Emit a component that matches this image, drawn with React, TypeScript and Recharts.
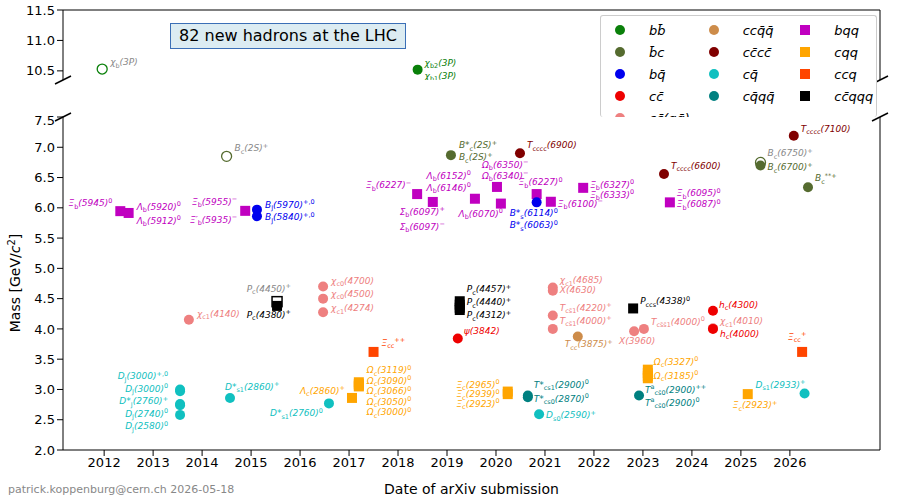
import React from "react";
import { ScatterChart, Scatter, XAxis, YAxis, Label } from "recharts";

// hadron categories: name shown in the legend, colour, marker
const categories = ["bb", "bc", "bq", "cc", "ccqq", "ccqqa", "cccc", "cq", "cqqq", "bqq", "cqq", "ccq", "ccqqq"];
const categoryNames = ["bb̄", "b̄c", "bq̄", "cc̄", "cc̄(qq̄)", "ccq̄q̄", "cc̄cc̄", "cq̄", "cq̄qq̄", "bqq", "cqq", "ccq", "cc̄qqq"];
const categoryColors = ["#0a800a", "#556b2f", "#0000ee", "#ee0000", "#ee8080", "#cd8c4a", "#800000", "#10c0c0", "#008080", "#c000c0", "#ffa500", "#ff4500", "#000000"];
const squareCats = ["bqq", "cqq", "ccq", "ccqqq"];

// [year of submission, mass GeV, category, open marker, label]
const topPoints: [number, number, string, boolean, string][] = [
  [2011.96, 10.53, "bb", true, "χ_{b}(3P)"],
  [2018.4, 10.52, "bb", false, "χ_{b2}(3P)|χ_{b1}(3P)"],
];
const topLabelPos: [number, number, string, number][] = [
  [8, -4, "start", 12],
  [7, -4, "start", 13],
];

const mainPoints: [number, number, string, boolean, string][] = [
  [2012.33, 5.945, "bqq", false, "Ξ_{b}(5945)^{0}"],
  [2012.5, 5.915, "bqq", false, "Λ_{b}(5920)^{0}|Λ_{b}(5912)^{0}"],
  [2014.5, 6.85, "bc", true, "B_{c}(2S)^{+}"],
  [2014.88, 5.95, "bqq", false, "Ξ_{b}(5955)^{−}|Ξ′_{b}(5935)^{−}"],
  [2015.12, 5.97, "bq", false, "B_{J}(5970)^{+,0}"],
  [2015.12, 5.86, "bq", false, "B_{J}(5840)^{+,0}"],
  [2013.55, 3.0, "cq", false, "D_{J}(3000)^{+,0}|D_{J}(3000)^{0}|D*_{J}(2760)^{+}|D_{J}(2740)^{0}|D_{J}(2580)^{0}"],
  [2013.55, 2.97, "cq", false, ""],
  [2013.55, 2.76, "cq", false, ""],
  [2013.55, 2.74, "cq", false, ""],
  [2013.55, 2.58, "cq", false, ""],
  [2014.57, 2.86, "cq", false, "D*_{s1}(2860)^{+}"],
  [2016.59, 2.77, "cq", false, "D*_{s1}(2760)^{0}"],
  [2013.73, 4.15, "ccqq", false, "χ_{c1}(4140)"],
  [2015.53, 4.45, "ccqqq", true, "P_{c}(4450)^{+}"],
  [2015.53, 4.38, "ccqqq", false, "P_{c}(4380)^{+}"],
  [2016.47, 4.7, "ccqq", false, "χ_{c0}(4700)"],
  [2016.47, 4.5, "ccqq", false, "χ_{c0}(4500)"],
  [2016.47, 4.274, "ccqq", false, "χ_{c1}(4274)"],
  [2017.5, 3.62, "ccq", false, "Ξ_{cc}^{++}"],
  [2017.2, 3.119, "cqq", false, "Ω_{c}(3119)^{0}|Ω_{c}(3090)^{0}|Ω_{c}(3066)^{0}|Ω_{c}(3050)^{0}|Ω_{c}(3000)^{0}"],
  [2017.2, 3.09, "cqq", false, ""],
  [2017.2, 3.066, "cqq", false, ""],
  [2017.2, 3.05, "cqq", false, ""],
  [2017.06, 2.86, "cqq", false, "Λ_{c}(2860)^{+}"],
  [2018.39, 6.227, "bqq", false, "Ξ_{b}(6227)^{−}"],
  [2018.71, 6.097, "bqq", false, "Σ_{b}(6097)^{+}|Σ_{b}(6097)^{−}"],
  [2019.08, 6.87, "bc", false, "B*_{c}(2S)^{+}|B_{c}(2S)^{+}"],
  [2019.57, 6.15, "bqq", false, "Λ_{b}(6152)^{0}|Λ_{b}(6146)^{0}"],
  [2020.1, 6.07, "bqq", false, "Λ_{b}(6070)^{0}"],
  [2020.02, 6.345, "bqq", false, "Ω_{b}(6350)^{−}|Ω_{b}(6340)^{−}"],
  [2020.49, 6.9, "cccc", false, "T_{cccc}(6900)"],
  [2020.83, 6.227, "bqq", false, "Ξ_{b}(6227)^{0}"],
  [2020.83, 6.09, "bq", false, "B*_{s}(6114)^{0}|B*_{s}(6063)^{0}"],
  [2021.12, 6.1, "bqq", false, "Ξ_{b}(6100)^{−}"],
  [2021.78, 6.33, "bqq", false, "Ξ_{b}(6327)^{0}|Ξ_{b}(6333)^{0}"],
  [2019.26, 4.457, "ccqqq", false, "P_{c}(4457)^{+}|P_{c}(4440)^{+}|P_{c}(4312)^{+}"],
  [2019.26, 4.4, "ccqqq", false, ""],
  [2019.26, 4.35, "ccqqq", false, ""],
  [2019.26, 4.312, "ccqqq", false, ""],
  [2019.22, 3.842, "cc", false, "ψ(3842)"],
  [2020.24, 2.965, "cqq", false, "Ξ_{c}(2965)^{0}|Ξ_{c}(2939)^{0}|Ξ_{c}(2923)^{0}"],
  [2020.24, 2.923, "cqq", false, ""],
  [2020.65, 2.9, "cqqq", false, "T*_{cs1}(2900)^{0}|T*_{cs0}(2870)^{0}"],
  [2020.65, 2.87, "cqqq", false, ""],
  [2020.88, 2.59, "cq", false, "D_{s0}(2590)^{+}"],
  [2021.16, 4.685, "ccqq", false, "χ_{c1}(4685)|X(4630)"],
  [2021.16, 4.63, "ccqq", false, ""],
  [2021.16, 4.22, "ccqq", false, "T_{cs̄1}(4220)^{+}|T_{cs̄1}(4000)^{+}"],
  [2021.16, 4.0, "ccqq", false, ""],
  [2021.67, 3.875, "ccqqa", false, "T_{cc}(3875)^{+}"],
  [2022.8, 4.338, "ccqqq", false, "P_{ccs}(4338)^{0}"],
  [2022.82, 3.96, "ccqq", false, "X(3960)"],
  [2023.02, 4.0, "ccqq", false, "T_{cs̄s̄1}(4000)^{0}"],
  [2023.1, 3.327, "cqq", false, "Ω_{c}(3327)^{0}|Ω_{c}(3185)^{0}"],
  [2023.1, 3.27, "cqq", false, ""],
  [2023.1, 3.22, "cqq", false, ""],
  [2023.1, 3.185, "cqq", false, ""],
  [2022.92, 2.9, "cqqq", false, "T^{a}_{cs̄0}(2900)^{++}|T^{a}_{cs̄0}(2900)^{0}"],
  [2023.43, 6.56, "cccc", false, "T_{cccc}(6600)"],
  [2023.55, 6.09, "bqq", false, "Ξ_{b}(6095)^{0}|Ξ_{b}(6087)^{0}"],
  [2024.43, 4.3, "cc", false, "h_{c}(4300)"],
  [2024.43, 4.01, "ccqq", false, "χ_{c1}(4010)"],
  [2024.43, 4.0, "cc", false, "h_{c}(4000)"],
  [2025.14, 2.923, "cqq", false, "Ξ_{c}(2923)^{+}"],
  [2025.4, 6.75, "bc", true, "B_{c}(6750)^{+}"],
  [2025.4, 6.7, "bc", false, "B_{c}(6700)^{+}"],
  [2026.08, 7.19, "cccc", false, "T_{cccc}(7100)"],
  [2026.25, 3.62, "ccq", false, "Ξ_{cc}^{+}"],
  [2026.3, 2.933, "cq", false, "D_{s1}(2933)^{+}"],
  [2026.37, 6.34, "bc", false, "B_{c}^{**+}"],
];
// label placement per point: dx, dy, anchor, line height
const S = "start", E = "end";
const mainLabelPos: [number, number, string, number][] = [
  [-8, -5, E, 12], [8, -3, S, 14], [8, -5, S, 12], [-8, -6, E, 18], [8, -2, S, 12], [8, 4, S, 12],
  [-12, -10, E, 12.5], [0, 0, S, 0], [0, 0, S, 0], [0, 0, S, 0], [0, 0, S, 0],
  [-5, -8, S, 12], [-6, 13, E, 12], [8, -3, S, 12], [14, -10, E, 12], [14, 12, E, 12],
  [8, -3, S, 12], [8, -2, S, 12], [8, -1, S, 12], [8, -6, S, 12],
  [8, -9, S, 10.5], [0, 0, S, 0], [0, 0, S, 0], [0, 0, S, 0], [-7, -4, E, 12],
  [-6, -6, E, 12], [12, 13, E, 15], [8, -7, S, 12], [-4, -20, E, 12], [2, 13, E, 12],
  [-15, -19, S, 11], [7, -5, S, 12], [-18, -9, S, 12], [-27, 14, S, 12], [7, 5, S, 12], [7, 0, S, 10],
  [7, -9, S, 13], [0, 0, S, 0], [0, 0, S, 0], [0, 0, S, 0], [6, -4, S, 12],
  [-8, -4, E, 9.5], [0, 0, S, 0], [6, -8, S, 14], [0, 0, S, 0], [7, 4, S, 12],
  [7, -4, S, 10], [0, 0, S, 0], [7, -5, S, 13], [0, 0, S, 0],
  [-13, 11, S, 12], [7, -4, S, 12], [-15, 13, S, 12], [7, -4, S, 12],
  [6, -5, S, 14], [0, 0, S, 0], [0, 0, S, 0], [0, 0, S, 0], [6, -3, S, 13],
  [7, -5, S, 12], [7, -6, S, 11], [6, -3, S, 12], [7, -4, S, 12], [7, 8, S, 12],
  [-15, 14, S, 12], [7, -6, S, 12], [7, 5, S, 12], [7, -4, S, 12], [-14, -12, S, 12],
  [-49, -6, S, 12], [7, -6, S, 12],
];

const yearTicks = [2012, 2013, 2014, 2015, 2016, 2017, 2018, 2019, 2020, 2021, 2022, 2023, 2024, 2025, 2026];
const massTicks = [2.0, 2.5, 3.0, 3.5, 4.0, 4.5, 5.0, 5.5, 6.0, 6.5, 7.0, 7.5];
const topMassTicks = [10.5, 11.0, 11.5];
const X_DOMAIN = [2011.16, 2027.84];

const FONT = "DejaVu Sans, sans-serif";

const colorOf = (c: string) => categoryColors[categories.indexOf(c)];

function RichText({ text, x, y, fill, anchor, size }: any) {
  const parts = text.split(/([_^]\{[^}]*\})/).filter((p: string) => p !== "");
  let shift = 0;
  return (
    <text x={x} y={y} fill={fill} textAnchor={anchor} fontSize={size} fontFamily={FONT}>
      {parts.map((p: string, i: number) => {
        let target = 0;
        let body = p;
        if (p.startsWith("_{")) { target = 2.5; body = p.slice(2, -1); }
        else if (p.startsWith("^{")) { target = -3.5; body = p.slice(2, -1); }
        const dy = target - shift;
        shift = target;
        return (
          <tspan key={i} dy={dy} fontSize={target ? size * 0.72 : size} fontStyle={target ? "normal" : "italic"}>{body}</tspan>
        );
      })}
    </text>
  );
}

const makeShape = (pos: [number, number, string, number][]) => (props: any) => {
  const { cx, cy, payload } = props;
  const color = colorOf(payload.c);
  const sq = squareCats.includes(payload.c);
  const fill = payload.open ? "#fff" : color;
  const lc = payload.open ? "#888" : color;
  const [dx, dy, anchor, lh] = pos[payload.i];
  const lines = payload.label ? payload.label.split("|") : [];
  return (
    <g>
      {sq ? (
        <rect x={cx - 5} y={cy - 5} width={10} height={10} fill={fill} stroke={color} strokeWidth={payload.open ? 1.5 : 0} />
      ) : (
        <circle cx={cx} cy={cy} r={5} fill={fill} stroke={color} strokeWidth={payload.open ? 1.3 : 0} />
      )}
      {lines.map((t: string, k: number) => (
        <RichText key={k} text={t} x={cx + dx} y={cy + dy + k * lh} fill={lc} anchor={anchor} size={9} />
      ))}
    </g>
  );
};

const toRows = (pts: [number, number, string, boolean, string][]) =>
  pts.map(([x, m, c, open, label], i) => ({ x, m, c, open, label, i }));

const tickStyle = { fontSize: 13, fill: "#000", fontFamily: FONT };

export default function App() {
  const legendCols = [categories.slice(0, 5), categories.slice(5, 9), categories.slice(9, 13)];
  return (
    <div style={{ position: "fixed", left: 0, top: 0, width: 900, height: 500, background: "#fff", fontFamily: FONT }}>
      <div style={{ position: "absolute", left: 0, top: 0 }}>
        <ScatterChart width={900} height={85} margin={{ top: 10, right: 20, bottom: 5, left: 23 }}>
          <XAxis type="number" dataKey="x" domain={X_DOMAIN} hide allowDataOverflow />
          <YAxis type="number" dataKey="m" domain={[10.35, 11.5]} ticks={topMassTicks} width={40}
            tickFormatter={(v) => v.toFixed(1)} tick={tickStyle} tickLine={{ stroke: "#000" }} axisLine={{ stroke: "#000" }} allowDataOverflow />
          <Scatter data={toRows(topPoints)} shape={makeShape(topLabelPos)} isAnimationActive={false} />
        </ScatterChart>
      </div>
      <div style={{ position: "absolute", left: 0, top: 112 }}>
        <ScatterChart width={900} height={388} margin={{ top: 5, right: 20, bottom: 20, left: 23 }}>
          <XAxis type="number" dataKey="x" domain={X_DOMAIN} ticks={yearTicks} height={30} tick={tickStyle}
            tickLine={{ stroke: "#000" }} axisLine={{ stroke: "#000" }} allowDataOverflow>
            <Label value="Date of arXiv submission" position="bottom" offset={4} style={{ fontSize: 14, fill: "#000", fontFamily: FONT }} />
          </XAxis>
          <YAxis type="number" dataKey="m" domain={[2, 7.5]} ticks={massTicks} width={40}
            tickFormatter={(v) => v.toFixed(1)} tick={tickStyle} tickLine={{ stroke: "#000" }} axisLine={{ stroke: "#000" }} allowDataOverflow />
          <Scatter data={toRows(mainPoints)} shape={makeShape(mainLabelPos)} isAnimationActive={false} />
        </ScatterChart>
      </div>
      {/* top / right spines, axis break marks, y title */}
      <svg width={900} height={500} style={{ position: "absolute", left: 0, top: 0, pointerEvents: "none" }}>
        <line x1={63} y1={10} x2={880} y2={10} stroke="#000" />
        <line x1={880} y1={10} x2={880} y2={80} stroke="#000" />
        <line x1={880} y1={117} x2={880} y2={450} stroke="#000" />
        {[63, 880].map((x) => (
          <g key={x}>
            <line x1={x - 8} y1={84} x2={x + 8} y2={76} stroke="#000" strokeWidth={1.5} />
            <line x1={x - 8} y1={121} x2={x + 8} y2={113} stroke="#000" strokeWidth={1.5} />
          </g>
        ))}
        <text transform="translate(20,283) rotate(-90)" textAnchor="middle" fontSize={14} fontFamily={FONT} fill="#000">
          Mass [GeV/<tspan fontStyle="italic">c</tspan><tspan dy={-5} fontSize={10}>2</tspan><tspan dy={5}>]</tspan>
        </text>
      </svg>
      <div style={{ position: "absolute", left: 170, top: 23, width: 234, height: 24, background: "#dcecf2", border: "1px solid #3b6fb6",
        fontSize: 16, lineHeight: "24px", textAlign: "center", color: "#000" }}>
        82 new hadrons at the LHC
      </div>
      <div style={{ position: "absolute", left: 600, top: 15, width: 275, height: 101, overflow: "hidden", background: "#fff",
        border: "1px solid #ccc", borderBottom: "none", borderRadius: 3 }}>
        <div style={{ display: "flex", padding: "3px 0 0 10px" }}>
          {legendCols.map((col, ci) => (
            <div key={ci} style={{ width: ci === 0 ? 94 : ci === 1 ? 92 : 80 }}>
              {col.map((c) => {
                const k = categories.indexOf(c);
                const sq = squareCats.includes(c);
                return (
                  <div key={c} style={{ display: "flex", alignItems: "center", height: 22 }}>
                    <span style={{ width: 10, height: 10, background: categoryColors[k], borderRadius: sq ? 0 : 5, marginLeft: 4, marginRight: 24 }} />
                    <span style={{ fontStyle: "italic", fontSize: 13 }}>{categoryNames[k]}</span>
                  </div>
                );
              })}
            </div>
          ))}
        </div>
      </div>
      <div style={{ position: "absolute", left: 8, top: 483, fontSize: 11, color: "#888" }}>patrick.koppenburg@cern.ch 2026-05-18</div>
    </div>
  );
}
